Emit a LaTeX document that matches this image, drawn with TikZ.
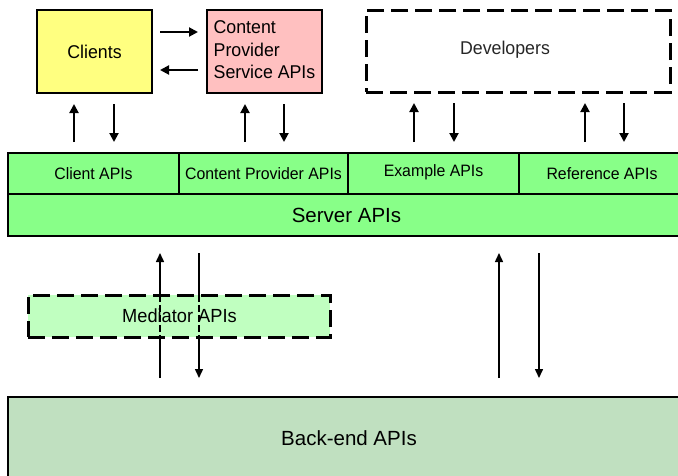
\documentclass[tikz,border=0pt]{standalone}
\usepackage{fontspec}
\setmainfont{Liberation Sans}
\usepackage{graphicx}
\usetikzlibrary{arrows.meta}
\newcommand\hstretch[1]{\scalebox{0.96}[1]{#1}}
\definecolor{cliyellow}{HTML}{FFFF80}
\definecolor{cppink}{HTML}{FFC0C0}
\definecolor{srvgreen}{HTML}{88FF88}
\definecolor{medgreen}{HTML}{C0FFC0}
\definecolor{bkgreen}{HTML}{C0E0C0}
\tikzset{
  box/.style={draw, line width=2.5pt, inner sep=0pt, outer sep=0pt, rectangle},
  dbox/.style={box, dash pattern=on 17pt off 7pt},
  cell/.style={draw, line width=2.2pt, fill=srvgreen, inner sep=0pt, outer sep=0pt, rectangle, minimum height=41pt},
  txt/.style={inner sep=0pt, outer sep=0pt},
  sarr/.style={line width=2pt, -{Triangle[length=9pt,width=9pt]}},
  larr/.style={line width=1.5pt, -{Triangle[length=9pt,width=8pt]}},
  big/.style={font=\fontsize{18.5}{22.5}\selectfont},
  small/.style={font=\fontsize{16.5}{18}\selectfont},
  huge/.style={font=\fontsize{20.5}{22}\selectfont},
}
\begin{document}
\begin{tikzpicture}[x=1pt,y=-1pt]
\useasboundingbox (0,0) rectangle (678,475);
% top boxes
\node[box, fill=cliyellow, minimum width=115pt, minimum height=83pt, big] (clients) at (94.5,51.5) {\hstretch{Clients}};
\node[box, fill=cppink, minimum width=115pt, minimum height=83pt, big] (cps) at (264.5,51.5)
  {\hstretch{\begin{tabular}{@{}l@{}}Content\\Provider\\Service APIs\end{tabular}}};
\node[dbox, line width=3pt, minimum width=304pt, minimum height=82pt] (dev) at (518,51) {};
\node[txt, big, text=black!85] (devtxt) at (505,50) {\hstretch{Developers}};
% server band
\node[cell, minimum width=171pt, small] (capi) at (93.5,173.5) {\hstretch{Client APIs}};
\node[cell, minimum width=169pt, small] (cpapi) at (263.5,173.5) {\hstretch{Content Provider APIs}};
\node[cell, minimum width=171pt] (exapi) at (433.5,173.5) {};
\node[txt, small] (extxt) at (433.5,172) {\hstretch{Example APIs}};
\node[cell, minimum width=166pt, small] (refapi) at (602,173.5) {\hstretch{Reference APIs}};
\node[cell, minimum width=677pt, minimum height=42pt, huge] (server) at (346.5,215) {Server APIs};
% back-end
\node[box, fill=bkgreen, minimum width=682pt, minimum height=83pt, huge] (backend) at (349,438.5) {Back-end APIs};
% horizontal arrows
\draw[sarr, shorten <=8pt, shorten >=9pt] (clients.east |- 0,32) -- (cps.west |- 0,32);
\draw[sarr, shorten <=9pt, shorten >=8pt] (cps.west |- 0,70) -- (clients.east |- 0,70);
% short vertical arrows
\foreach \u/\d/\top/\bot in {74/114/clients/capi, 245/284/cps/cpapi, 414/454/dev/exapi, 585/624/dev/refapi}{
  \draw[sarr, shorten <=11pt, shorten >=11pt] (\bot.north -| \u,0) -- (\top.south -| \u,0);
  \draw[sarr, shorten <=11pt, shorten >=11pt] (\top.south -| \d,0) -- (\bot.north -| \d,0);
}
% long arrows
\draw[larr, shorten <=19pt, shorten >=17pt] (backend.north -| 160,0) -- (server.south -| 160,0);
\draw[larr, shorten <=17pt, shorten >=19pt] (server.south -| 199,0) -- (backend.north -| 199,0);
\draw[larr, shorten <=19pt, shorten >=17pt] (backend.north -| 499,0) -- (server.south -| 499,0);
\draw[larr, shorten <=17pt, shorten >=19pt] (server.south -| 539,0) -- (backend.north -| 539,0);
% mediator
\node[dbox, line width=3pt, fill=medgreen, minimum width=302pt, minimum height=42pt] (med) at (179,316) {};
\draw[line width=1.2pt, dash pattern=on 7pt off 3pt] (med.north -| 160,0) -- (med.south -| 160,0);
\draw[line width=1.2pt, dash pattern=on 7pt off 3pt] (med.north -| 199,0) -- (med.south -| 199,0);
\node[txt, font=\fontsize{19}{20}\selectfont] (medtxt) at (179.5,316) {\hstretch{Mediator APIs}};
\end{tikzpicture}
\end{document}
